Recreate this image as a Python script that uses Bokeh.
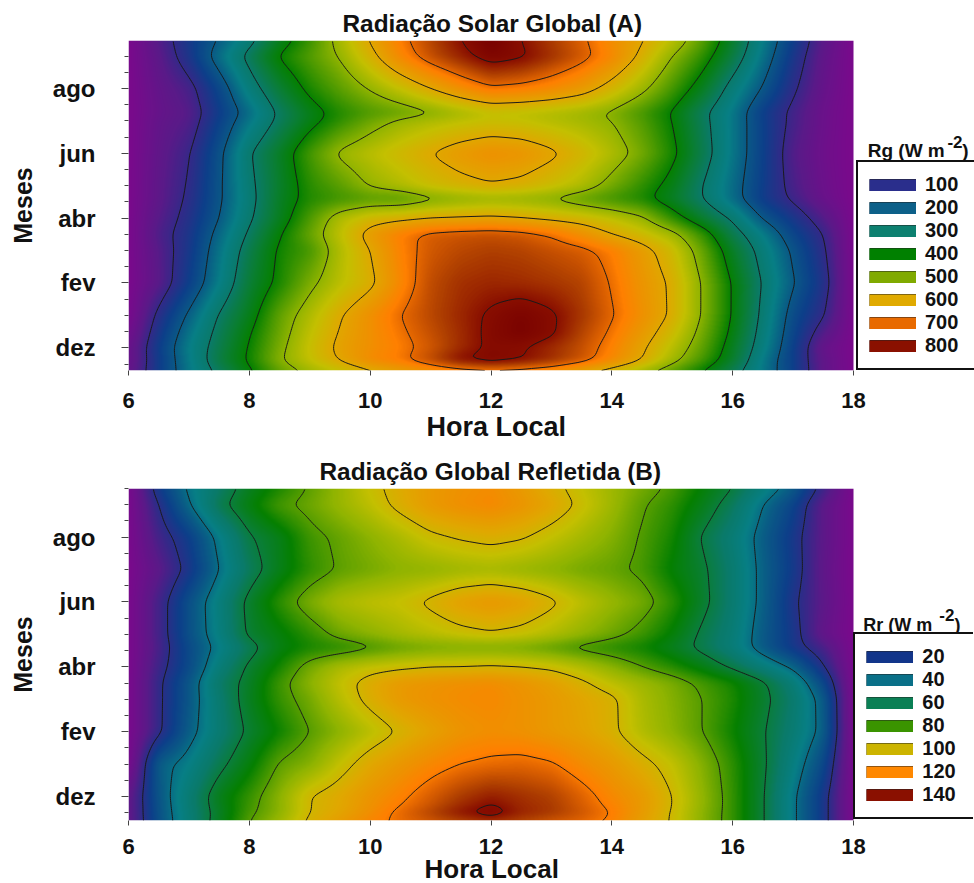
from bokeh.core.properties import value
from bokeh.embed import file_html
from bokeh.layouts import column
from bokeh.models import FixedTicker, Label, Legend, LegendItem, LinearColorMapper, Range1d, Title
from bokeh.plotting import figure
from bokeh.resources import INLINE
import numpy as np

FONT = "Liberation Sans"

HOURS = [6 + 0.5 * i for i in range(25)]
MONTH_TICKS = [0, 2, 4, 6, 8]
MONTH_NAMES = ["dez", "fev", "abr", "jun", "ago"]
MONTH_MINOR = [-0.5, 0.5, 1, 1.5, 2.5, 3, 3.5, 4.5, 5, 5.5, 6.5, 7, 7.5, 8.5, 9, 9.5]
HOUR_TICKS = [6, 8, 10, 12, 14, 16, 18]

RG_MONTHS = [-0.7, -0.4, 0, 0.45, 1, 2, 3, 3.5, 4, 4.6, 5, 6, 7, 7.25, 8, 9, 9.48]
RG_VALUES = [
    [40,145,240,315,390,465,515,550,590,620,645,665,680,670,650,610,570,520,462,400,325,240,155,50,0],
    [30,145,245,340,410,495,550,605,660,690,740,805,825,805,770,725,665,600,520,445,360,245,150,50,0],
    [30,150,250,330,405,485,555,615,650,680,720,770,812,805,770,730,675,610,540,465,370,265,155,40,0],
    [15,135,235,320,395,475,545,605,650,690,730,770,815,840,810,745,690,630,565,480,385,275,165,70,0],
    [0,115,210,305,375,465,530,595,650,700,740,775,810,835,810,760,705,650,590,495,395,285,175,105,0],
    [0,60,150,250,350,415,485,540,585,665,735,765,775,770,760,745,695,640,590,495,395,295,205,125,0],
    [0,65,135,235,330,410,445,530,600,675,720,740,750,745,730,715,680,625,565,470,365,275,190,110,0],
    [0,75,130,220,310,395,470,545,625,680,715,725,730,720,695,650,600,565,520,435,330,250,165,100,0],
    [0,65,120,200,290,370,450,530,570,585,600,605,610,600,585,570,545,510,430,355,290,195,135,70,0],
    [0,55,110,190,280,365,420,440,455,455,482,500,510,505,492,465,440,415,365,300,225,145,90,35,0],
    [0,55,105,190,285,360,425,460,505,530,560,580,595,585,560,530,480,430,380,300,225,150,80,30,0],
    [0,50,95,185,295,365,445,510,540,570,600,630,650,640,612,575,530,480,415,330,240,155,70,25,0],
    [0,45,70,155,240,315,380,430,475,510,530,545,555,550,535,520,500,455,400,320,240,155,85,30,0],
    [0,40,65,145,225,310,375,420,450,468,490,520,545,540,530,515,490,445,395,315,240,150,85,30,0],
    [0,45,80,165,270,350,415,460,505,550,600,650,690,680,660,630,575,515,445,370,275,195,110,40,0],
    [0,58,130,230,320,405,455,505,580,665,730,780,830,810,765,720,665,585,500,430,340,235,135,50,0],
    [0,68,137,205,280,372,437,522,605,682,743,800,850,800,755,710,655,605,540,460,360,250,150,60,0],
]

RR_MONTHS = [-0.74, -0.52, -0.3, 0, 1, 2, 3, 3.5, 4, 4.6, 5, 6, 7, 8, 9, 9.5]
RR_VALUES = [
    [8,32,49,65,80,90,102,109,117,122,126,130,133,130,126,123,118,108,99,87,76,61,42,24,0],
    [8,33,49,64,78,87,100,106,114,123,131,140,146,137,133,127,120,110,99,87,76,61,42,24,0],
    [8,33,50,65,77,87,100,105,113,120,127,135,141,135,132,125,118,110,100,88,76,61,42,24,0],
    [8,34,50,66,76,87,100,105,112,118,125,132,137,134,131,124,116,110,100,88,76,61,42,24,0],
    [0,36,44,57,68,81,86,96,105,111,116,120,122,123,121,115,110,103,96,86,75,62,46,30,0],
    [0,18,36,50,62,71,80,87,94,101,107,112,114,113,110,107,102,93,87,80,71,61,50,37,0],
    [0,18,34,51,65,76,84,94,103,110,113,115,116,113,110,106,102,92,86,80,73,63,52,36,0],
    [0,18,34,53,64,77,87,96,104,110,112,114,115,112,108,102,95,90,85,78,72,62,49,30,0],
    [0,16,30,48,62,72,84,92,96,98,100,100,101,100,98,93,87,80,74,67,58,48,38,21,0],
    [0,14,30,43,56,67,72,74,78,82,84,85,85,84,81,77,74,71,65,57,48,35,24,14,0],
    [0,15,32,46,62,68,75,83,87,91,94,97,99,97,93,88,83,77,69,58,49,35,24,8,0],
    [0,15,32,47,63,75,85,92,95,97,102,108,111,108,102,95,89,84,75,63,51,37,22,10,0],
    [0,10,23,40,55,66,75,81,84,87,88,90,91,89,87,84,82,78,69,62,51,37,25,9,0],
    [0,15,26,43,59,66,77,82,87,92,98,101,103,101,96,91,86,79,72,59,49,36,24,10,0],
    [0,20,39,57,68,78,83,89,95,103,110,114,116,112,106,98,90,81,75,66,55,40,28,10,0],
    [0,25,42,53,65,73,81,89,97,104,110,113,115,110,103,96,90,84,78,69,60,47,35,16,0],
]

RG_LEVELS = [100, 200, 300, 400, 500, 600, 700, 800]
RG_LEGEND = ["#2a2e8c", "#0d6089", "#0d8070", "#008000", "#80aa00", "#e0aa00", "#e86a00", "#8a1000"]
RR_LEVELS = [20, 40, 60, 80, 100, 120, 140]
RR_LEGEND = ["#12358a", "#0a7088", "#0a8055", "#3a9400", "#ccb400", "#ff8800", "#8a1000"]

SCALE_STOPS = [0, 60, 100, 150, 200, 250, 300, 350, 400, 450, 500, 550, 600, 650, 680, 700, 750, 800, 850]
SCALE_COLORS = ["#7a0a8c", "#5a1a88", "#332a88", "#0d3f8a", "#0a5a86", "#077f85", "#0a7a6a", "#0a7e35",
                "#058000", "#4c9a00", "#90b400", "#c4c000", "#e0a800", "#f09000", "#ff8000", "#e86a00",
                "#b04000", "#8a1000", "#780000"]

PX_PER_HOUR = 725 / 12


def build_palette():
    rgb = np.array([[int(c[i:i + 2], 16) for i in (1, 3, 5)] for c in SCALE_COLORS], float)
    t = np.linspace(0, 850, 256)
    chans = [np.interp(t, SCALE_STOPS, rgb[:, k]) for k in range(3)]
    return ["#%02x%02x%02x" % (int(r), int(g), int(b)) for r, g, b in zip(*chans)]


def blur(z, sigma, axis):
    r = int(3 * sigma)
    k = np.exp(-0.5 * (np.arange(-r, r + 1) / sigma) ** 2)
    k /= k.sum()
    pad = [(0, 0), (0, 0)]
    pad[axis] = (r, r)
    zp = np.pad(z, pad, mode="edge")
    return np.apply_along_axis(lambda v: np.convolve(v, k, mode="valid"), axis, zp)


def field(months, table, ymin, ymax, nx, ny):
    xs = np.linspace(6, 18, nx)
    ys = np.linspace(ymin, ymax, ny)
    t = np.array(table, float)
    a = np.array([np.interp(xs, HOURS, row) for row in t])
    b = np.array([np.interp(ys, months, a[:, j]) for j in range(nx)]).T
    b = blur(blur(b, 5, 1), 4, 0)
    return xs, ys, b


def panel(title, months, table, levels, legend_colors, top, bottom, ymin, ymax, fh, high, legend_loc, head):
    frame_w = 974 - head["left"]
    p = figure(width=974, height=top + fh + bottom, frame_width=frame_w, frame_height=fh,
               x_range=Range1d(6, 6 + frame_w / PX_PER_HOUR), y_range=Range1d(ymin, ymax),
               output_backend="svg", toolbar_location=None,
               min_border_left=head["left"], min_border_right=0,
               min_border_top=top, min_border_bottom=bottom, outline_line_color=None)
    p.grid.visible = False
    p.title.text = title
    p.title.align = "left"
    p.title.offset = head["title_offset"]
    p.title.text_font = FONT
    p.title.text_font_size = "24.4px"
    p.title.text_font_style = "bold"
    p.title.text_color = "#111111"
    p.title.standoff = 8

    xs, ys, z = field(months, table, ymin, ymax, 725, fh)
    mapper = LinearColorMapper(palette=build_palette(), low=0, high=high)
    p.image(image=[z], x=6, y=ymin, dw=12, dh=ymax - ymin, color_mapper=mapper)
    p.contour(xs[::2], ys[::2], z[::2, ::2], levels=levels, fill_color=None,
              line_color="#1a1a1a", line_width=1.0)

    for ax in (p.xaxis[0], p.yaxis[0]):
        ax.axis_line_color = None
        ax.major_tick_line_color = "#444444"
        ax.minor_tick_line_color = "#444444"
        ax.major_label_text_font = FONT
        ax.major_label_text_font_style = "bold"
        ax.major_label_text_color = "#111111"
        ax.axis_label_text_font = FONT
        ax.axis_label_text_font_style = "bold"
        ax.axis_label_text_color = "#111111"
    p.xaxis.ticker = FixedTicker(ticks=HOUR_TICKS)
    p.xaxis.major_tick_out = 5
    p.xaxis.major_tick_in = 0
    p.xaxis.minor_tick_out = 0
    p.xaxis.major_label_text_font_size = "22px"
    p.xaxis.major_label_standoff = head["tick"]
    p.add_layout(Title(text="Hora Local", align="left", offset=head["xoffset"], standoff=head["xstand"],
                       text_font=FONT, text_font_style="bold", text_font_size=head["xsize"],
                       text_color="#111111"), "below")

    p.yaxis.ticker = FixedTicker(ticks=MONTH_TICKS, minor_ticks=MONTH_MINOR)
    p.yaxis.major_label_overrides = dict(zip(MONTH_TICKS, MONTH_NAMES))
    p.yaxis.major_label_orientation = "horizontal"
    p.yaxis.major_tick_out = 7
    p.yaxis.major_tick_in = 0
    p.yaxis.minor_tick_out = 4
    p.yaxis.minor_tick_in = 0
    p.yaxis.major_label_text_font_size = "24px"
    p.yaxis.major_label_standoff = 26
    p.yaxis.axis_label = "Meses"
    p.yaxis.axis_label_text_font_size = "25px"
    p.yaxis.axis_label_standoff = 13

    items = []
    for lev, col in zip(levels, legend_colors):
        edge = p.line(x=[-1, -1], y=[-5, -5], line_color="#222222", line_width=14)
        fill = p.line(x=[-1, -1], y=[-5, -5], line_color=col, line_width=12)
        items.append(LegendItem(label=value(str(lev)), renderers=[edge, fill]))
    legend = Legend(items=items, location=legend_loc, orientation="vertical",
                    glyph_width=47, glyph_height=12, label_standoff=9, spacing=0, padding=11, margin=0,
                    label_height=20, label_width=60,
                    label_text_font=FONT, label_text_font_style="bold", label_text_font_size="20px",
                    label_text_color="#111111", border_line_color="#111111", border_line_width=2,
                    border_line_alpha=1.0, background_fill_color="white", background_fill_alpha=1.0)
    p.add_layout(legend, "center")

    for txt, hx, my, size in head["title"]:
        p.add_layout(Label(x=hx, y=my, text=txt, text_font=FONT, text_font_style="bold", text_font_size=size,
                           text_color="#111111", text_baseline="alphabetic", text_align="left"))
    return p


A_HEAD = {"left": 128, "xstand": -2, "tick": 17, "xsize": "27px", "title_offset": 214, "xoffset": 298,
          "title": [("Rg (W m", 18.235, 6.08, "19px"), ("-2", 19.555, 6.35, "17px"), (")", 19.8, 6.08, "19px")]}
B_HEAD = {"left": 127, "xstand": -9, "tick": 13, "xsize": "26px", "title_offset": 191, "xoffset": 296,
          "title": [("Rr (W m", 18.16, 5.3, "18px"), ("-2", 19.42, 5.6, "17px"), (")", 19.67, 5.3, "18px")]}

a = panel("Radiação Solar Global (A)", RG_MONTHS, RG_VALUES, RG_LEVELS, RG_LEGEND,
          40, 75, -0.7, 9.48, 330, 850, (728, 0), A_HEAD)
b = panel("Radiação Global Refletida (B)", RR_MONTHS, RR_VALUES, RR_LEVELS, RR_LEGEND,
          43, 63, -0.74, 9.5, 332, 850 * 140 / 800, (729, 1), B_HEAD)

page = column(a, b, spacing=0)
open("out.html", "w").write(file_html(page, INLINE))
